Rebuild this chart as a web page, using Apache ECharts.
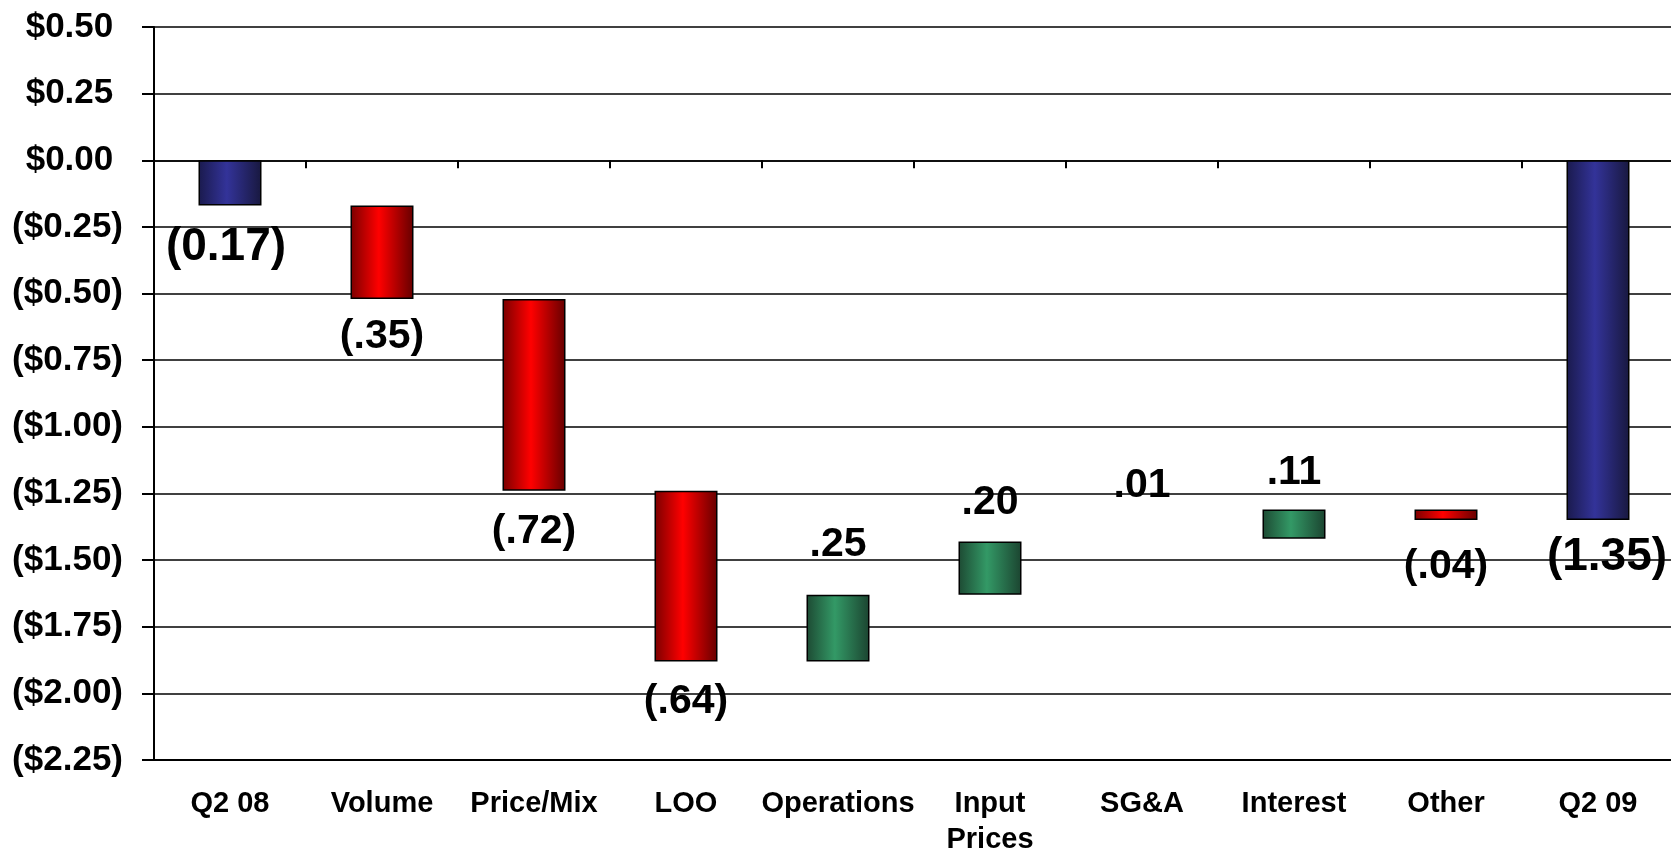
<!DOCTYPE html>
<html>
<head>
<meta charset="utf-8">
<title>EPS bridge Q2 08 to Q2 09</title>
<script src="https://cdn.jsdelivr.net/npm/echarts@6/dist/echarts.min.js"></script>
<style>
  html, body { margin: 0; padding: 0; background: #fff; overflow: hidden; }
  #chart { width: 1671px; height: 848px; }
</style>
</head>
<body>
<div id="chart"></div>
<script>
// Bridge categories, left to right
const categories = ['Q2 08', 'Volume', 'Price/Mix', 'LOO', 'Operations', 'Input\nPrices', 'SG&A', 'Interest', 'Other', 'Q2 09'];
// Per-share amounts: the two ends are totals, the rest are changes
const amounts = [-0.17, -0.35, -0.72, -0.64, 0.25, 0.20, 0.01, 0.11, -0.04, -1.35];
const isTotal = [true, false, false, false, false, false, false, false, false, true];
// Value axis range and step
const yMin = -2.25;
const yMax = 0.50;
const yStep = 0.25;

// Layout: gap in px between each bar's end and the middle of its label,
// and a small sideways nudge for the two total labels
const labelGap = [42, 38, 41, 40, 50, 39, 53, 37, 47, 37];
const labelShiftX = [-4, 0, 0, 0, 0, 0, 0, 0, 0, 9];

const FONT = '"Liberation Sans", Arial, sans-serif';

function round2(v) { return Math.round(v * 100) / 100; }

// Text shown at each bar: totals keep the leading zero, changes drop it
function amountText(v, total) {
  let s = Math.abs(v).toFixed(2);
  if (!total) s = s.replace(/^0/, '');
  return v < 0 ? '(' + s + ')' : s;
}

function tickText(v) {
  const s = '$' + Math.abs(v).toFixed(2);
  return v < 0 ? '(' + s + ')' : s + ' ';
}

function grad(edgeL, mid, edgeR) {
  return new echarts.graphic.LinearGradient(0, 0, 1, 0, [
    { offset: 0, color: edgeL },
    { offset: 0.45, color: mid },
    { offset: 1, color: edgeR }
  ]);
}
const fills = {
  total: grad('#1a1a4d', '#333399', '#18183f'),
  down: grad('#7a0000', '#ff0000', '#650000'),
  up: grad('#1d4a33', '#339966', '#1b4430')
};

// Walk the bridge: each bar hangs from its upper edge (base) down to its lower edge
const baseData = [];
const barData = [];
let running = 0;
amounts.forEach((v, i) => {
  let hi, lo;
  if (isTotal[i]) {
    hi = 0; lo = v; running = v;
  } else {
    const start = running;
    const end = round2(running + v);
    hi = Math.max(start, end); lo = Math.min(start, end);
    running = end;
  }
  baseData.push(round2(hi));
  const kind = isTotal[i] ? 'total' : (v < 0 ? 'down' : 'up');
  // changes of a cent or less are too thin to paint; they keep only their label
  const tooThin = !isTotal[i] && Math.abs(v) <= 0.01;
  const fs = isTotal[i] ? 46 : 41;
  barData.push({
    value: round2(lo - hi),
    itemStyle: tooThin
      ? { color: 'transparent', borderWidth: 0 }
      : { color: fills[kind], borderColor: '#000', borderWidth: 1.5 },
    label: {
      show: true,
      formatter: amountText(v, isTotal[i]),
      position: v > 0 ? 'top' : 'bottom',
      distance: Math.max(0, labelGap[i] - fs / 2),
      offset: [labelShiftX[i], 0],
      fontSize: fs,
      fontWeight: 'bold',
      fontFamily: FONT,
      color: '#000'
    }
  });
});

const chart = echarts.init(document.getElementById('chart'), null, { renderer: 'canvas' });
chart.setOption({
  animation: false,
  backgroundColor: '#fff',
  grid: { left: 154, right: -3, top: 27, bottom: 88, containLabel: false, outerBoundsMode: 'none' },
  xAxis: [
    {
      type: 'category',
      data: categories,
      position: 'bottom',
      axisLine: { onZero: false, lineStyle: { color: '#000', width: 2 } },
      axisTick: { show: false },
      axisLabel: {
        interval: 0, margin: 26, fontSize: 29, lineHeight: 36,
        fontWeight: 'bold', fontFamily: FONT, color: '#000'
      },
      splitLine: { show: false }
    },
    {
      type: 'category',
      data: categories,
      position: 'bottom',
      axisLine: { onZero: true, lineStyle: { color: '#000', width: 1.6 } },
      axisTick: { show: true, length: 8, lineStyle: { color: '#000', width: 2 } },
      axisLabel: { show: false },
      splitLine: { show: false }
    }
  ],
  yAxis: {
    type: 'value',
    min: yMin,
    max: yMax,
    interval: yStep,
    axisLine: { show: true, lineStyle: { color: '#000', width: 2 } },
    axisTick: { show: true, length: 12, lineStyle: { color: '#000', width: 2 } },
    splitLine: { show: true, lineStyle: { color: '#000', width: 1.6 } },
    axisLabel: {
      margin: 31, fontSize: 35, fontWeight: 'bold', fontFamily: FONT, color: '#000',
      formatter: tickText
    }
  },
  series: [
    {
      name: 'base',
      type: 'bar',
      stack: 'bridge',
      xAxisIndex: 0,
      barWidth: 63,
      silent: true,
      itemStyle: { color: 'transparent' },
      emphasis: { disabled: true },
      data: baseData
    },
    {
      name: 'change',
      type: 'bar',
      stack: 'bridge',
      xAxisIndex: 0,
      barWidth: 63,
      emphasis: { disabled: true },
      data: barData
    }
  ]
});
</script>
</body>
</html>
